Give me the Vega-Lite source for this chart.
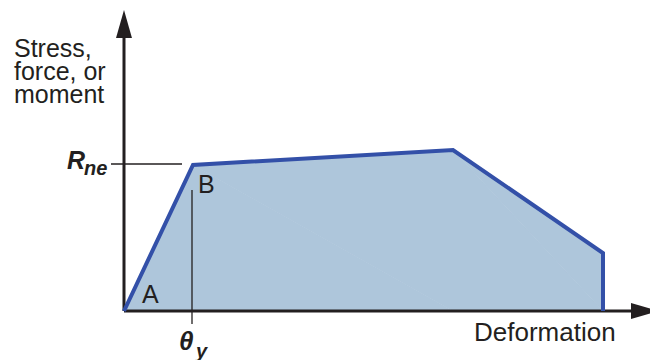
{
  "$schema": "https://vega.github.io/schema/vega-lite/v6.json",
  "width": 650,
  "height": 360,
  "autosize": {"type": "none"},
  "padding": 0,
  "background": "white",
  "config": {"view": {"stroke": null}},
  "datasets": {
    "curve": [
      {"order": 1, "d": 0, "f": 0},
      {"order": 2, "d": 69, "f": 146},
      {"order": 3, "d": 329, "f": 161},
      {"order": 4, "d": 479, "f": 58},
      {"order": 5, "d": 479, "f": 0}
    ],
    "axes": [
      {"d": 0, "f": 0, "d2": 0, "f2": 285},
      {"d": 0, "f": 0, "d2": 512, "f2": 0}
    ],
    "guides": [
      {"d": -13, "f": 147, "d2": 58, "f2": 147},
      {"d": 68, "f": 121, "d2": 68, "f2": -13}
    ],
    "upArrow": [{"d": 0, "f": 287}],
    "rightArrow": [{"d": 521, "f": 0}],
    "plainText": [
      {"d": -110, "f": 254, "label": "Stress,", "s": 25},
      {"d": -110, "f": 231, "label": "force, or", "s": 25},
      {"d": -110, "f": 208, "label": "moment", "s": 25},
      {"d": 350, "f": -30, "label": "Deformation", "s": 26},
      {"d": 18, "f": 8, "label": "A", "s": 25},
      {"d": 74, "f": 118, "label": "B", "s": 25}
    ],
    "mathText": [
      {"d": -57, "f": 142, "label": "R", "s": 25},
      {"d": -40, "f": 136, "label": "ne", "s": 20},
      {"d": 55, "f": -39, "label": "θ", "s": 26},
      {"d": 72, "f": -47, "label": "y", "s": 20}
    ]
  },
  "layer": [
    {
      "data": {"name": "curve"},
      "mark": {"type": "area", "color": "#aec6db", "opacity": 1},
      "encoding": {
        "x": {"field": "d", "type": "quantitative", "scale": {"domain": [-124, 526], "nice": false, "zero": false}, "axis": null},
        "y": {"field": "f", "type": "quantitative", "scale": {"domain": [-49, 311], "nice": false, "zero": false}, "axis": null},
        "order": {"field": "order"}
      }
    },
    {
      "data": {"name": "curve"},
      "mark": {"type": "area", "color": "#aec6db", "opacity": 1},
      "encoding": {
        "x": {"field": "d", "type": "quantitative"},
        "y": {"field": "f", "type": "quantitative"},
        "order": {"field": "order"}
      }
    },
    {
      "data": {"name": "guides"},
      "mark": {"type": "rule", "color": "#231f20", "strokeWidth": 1.3},
      "encoding": {
        "x": {"field": "d", "type": "quantitative"},
        "y": {"field": "f", "type": "quantitative"},
        "x2": {"field": "d2"},
        "y2": {"field": "f2"}
      }
    },
    {
      "data": {"name": "axes"},
      "mark": {"type": "rule", "color": "#231f20", "strokeWidth": 3},
      "encoding": {
        "x": {"field": "d", "type": "quantitative"},
        "y": {"field": "f", "type": "quantitative"},
        "x2": {"field": "d2"},
        "y2": {"field": "f2"}
      }
    },
    {
      "data": {"name": "curve"},
      "mark": {"type": "line", "color": "#3350a8", "strokeWidth": 4, "strokeJoin": "miter"},
      "encoding": {
        "x": {"field": "d", "type": "quantitative"},
        "y": {"field": "f", "type": "quantitative"},
        "order": {"field": "order"}
      }
    },
    {
      "data": {"name": "upArrow"},
      "mark": {"type": "point", "shape": "M0,-1L0.57,1L-0.57,1Z", "size": 784, "filled": true, "color": "#231f20", "opacity": 1},
      "encoding": {
        "x": {"field": "d", "type": "quantitative"},
        "y": {"field": "f", "type": "quantitative"}
      }
    },
    {
      "data": {"name": "rightArrow"},
      "mark": {"type": "point", "shape": "M1,0L-1,-0.57L-1,0.57Z", "size": 784, "filled": true, "color": "#231f20", "opacity": 1},
      "encoding": {
        "x": {"field": "d", "type": "quantitative"},
        "y": {"field": "f", "type": "quantitative"}
      }
    },
    {
      "data": {"name": "plainText"},
      "mark": {"type": "text", "align": "left", "baseline": "alphabetic", "font": "Liberation Sans", "color": "#231f20"},
      "encoding": {
        "x": {"field": "d", "type": "quantitative"},
        "y": {"field": "f", "type": "quantitative"},
        "text": {"field": "label"},
        "size": {"field": "s", "type": "quantitative", "scale": null}
      }
    },
    {
      "data": {"name": "mathText"},
      "mark": {"type": "text", "align": "left", "baseline": "alphabetic", "font": "Liberation Sans", "fontWeight": "bold", "fontStyle": "italic", "color": "#231f20"},
      "encoding": {
        "x": {"field": "d", "type": "quantitative"},
        "y": {"field": "f", "type": "quantitative"},
        "text": {"field": "label"},
        "size": {"field": "s", "type": "quantitative", "scale": null}
      }
    }
  ]
}
